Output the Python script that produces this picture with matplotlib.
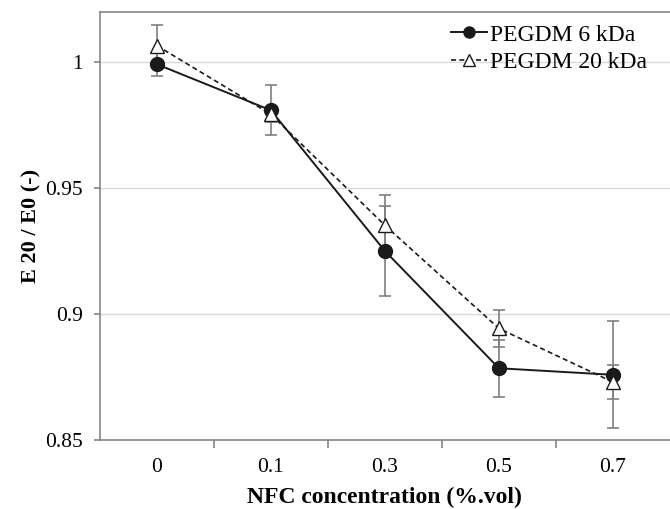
import matplotlib.pyplot as plt
import numpy as np

categories = ["0", "0.1", "0.3", "0.5", "0.7"]
peg6 = [0.9993, 0.981, 0.9251, 0.8785, 0.8759]
peg6_err = [0.0046, 0.0099, 0.0179, 0.0113, 0.0212]
peg20 = [1.0067, 0.9794, 0.9353, 0.8943, 0.8730]
peg20_err = [0.0083, 0.0030, 0.0119, 0.0073, 0.0067]

plt.rcParams["font.family"] = ["Liberation Serif", "DejaVu Serif"]

fig = plt.figure(figsize=(6.7, 5.09), dpi=100)
ax = fig.add_axes([0.149, 0.1356, 0.851, 0.8405])

x = np.arange(len(categories))

ax.errorbar(x, peg6, yerr=peg6_err, fmt="none", ecolor="#7f7f7f",
            elinewidth=1.2, capsize=4, capthick=1.2, zorder=2)
ax.errorbar(x, peg20, yerr=peg20_err, fmt="none", ecolor="#7f7f7f",
            elinewidth=1.2, capsize=4, capthick=1.2, zorder=2)

ax.plot(x, peg6, color="#1a1a1a", linewidth=1.4, marker="o",
        markersize=10, markerfacecolor="#1a1a1a", markeredgecolor="#1a1a1a",
        label="PEGDM 6 kDa", zorder=3)
ax.plot(x, peg20, color="#1a1a1a", linewidth=1.2, linestyle=(0, (3, 2)),
        marker="^", markersize=10, markerfacecolor="white",
        markeredgecolor="#1a1a1a", label="PEGDM 20 kDa", zorder=4)

ax.set_xlim(-0.5, len(categories) - 0.5)
ax.set_ylim(0.85, 1.02)
ax.set_yticks([0.85, 0.9, 0.95, 1.0])
ax.set_yticklabels(["0.85", "0.9", "0.95", "1"])
ax.set_xticks(x)
ax.set_xticklabels(categories)
ax.set_xticks(np.arange(0.5, len(categories) - 1, 1.0), minor=True)

ax.yaxis.grid(True, color="#d9d9d9", linewidth=1)
ax.set_axisbelow(True)

for side in ["left", "bottom", "top"]:
    ax.spines[side].set_color("#868686")
    ax.spines[side].set_linewidth(1.2)
ax.spines["right"].set_visible(False)

ax.tick_params(axis="x", which="major", length=0, pad=13, labelsize=15.5)
ax.tick_params(axis="x", which="minor", length=6, color="#868686", width=1.2)
ax.tick_params(axis="y", length=4, color="#868686", width=1.2, pad=8,
               labelsize=15.5)

ax.set_xlabel("NFC concentration (%.vol)", fontsize=17, fontweight="bold",
              labelpad=7)
ax.set_ylabel("E 20 / E0 (-)", fontsize=16, fontweight="bold", labelpad=3)

leg = ax.legend(loc="upper right", frameon=False, fontsize=17,
                handlelength=1.5, handletextpad=0.15, borderaxespad=0.2,
                labelspacing=0.25, bbox_to_anchor=(0.985, 1.005))
for h in leg.legend_handles:
    h.set_markersize(8)

fig.savefig("out.png", dpi=100)
